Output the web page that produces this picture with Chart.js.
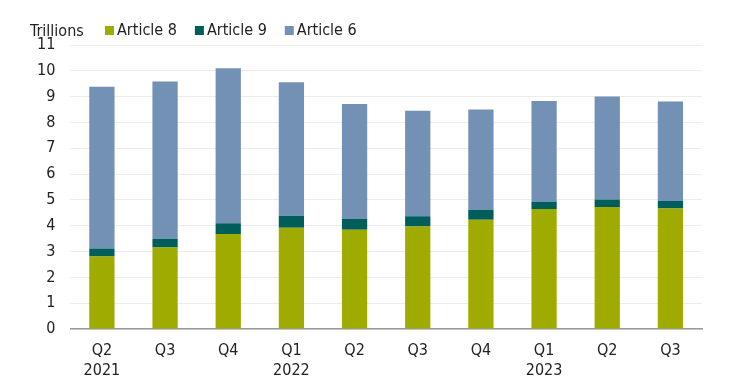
<!DOCTYPE html>
<html>
<head>
<meta charset="utf-8">
<script src="https://cdn.jsdelivr.net/npm/chart.js@4"></script>
<style>
    body { margin: 0; background: #fff; }
    #wrap { width: 740px; height: 380px; }
</style>
</head>
<body>
<div id="wrap"><canvas id="bar-chart"></canvas></div>
<script>
const quarters = [["Q2", "2021"], ["Q3"], ["Q4"], ["Q1", "2022"], ["Q2"], ["Q3"], ["Q4"], ["Q1", "2023"], ["Q2"], ["Q3"]];
const article8 = [2.81, 3.16, 3.68, 3.92, 3.84, 3.97, 4.23, 4.65, 4.73, 4.67];
const article9 = [0.31, 0.34, 0.42, 0.47, 0.43, 0.40, 0.39, 0.28, 0.29, 0.29];
const article6 = [6.26, 6.09, 6.00, 5.17, 4.44, 4.08, 3.88, 3.90, 3.99, 3.85];
const yTicks = [0, 1, 2, 3, 4, 5, 6, 7, 8, 9, 10, 11];

const fontFamily = "'DejaVu Sans Condensed', 'Liberation Sans Narrow', 'Roboto', sans-serif";

// leyenda propia: "Trillions" + cuadritos
const legendPlugin = {
    id: "topLegend",
    afterDraw(chart) {
        const ctx = chart.ctx;
        ctx.save();
        ctx.font = "16px " + fontFamily;
        ctx.fillStyle = "#222";
        ctx.textBaseline = "middle";
        ctx.fillText("Trillions", 30, 32);
        let x = 105;
        chart.data.datasets.forEach((ds) => {
            ctx.fillStyle = ds.backgroundColor;
            ctx.fillRect(x, 26, 9, 9);
            ctx.fillStyle = "#222";
            ctx.fillText(ds.label, x + 12, 31);
            x += 12 + ctx.measureText(ds.label).width + 18;
        });
        ctx.restore();
    },
};

new Chart(document.getElementById("bar-chart"), {
    type: "bar",
    data: {
        labels: quarters,
        datasets: [
            { label: "Article 8", data: article8, backgroundColor: "#a0ab00" },
            { label: "Article 9", data: article9, backgroundColor: "#005e5a" },
            { label: "Article 6", data: article6, backgroundColor: "#7390b5" },
        ],
    },
    options: {
        responsive: true,
        maintainAspectRatio: false,
        animation: false,
        layout: { padding: { left: 22, right: 38, top: 45, bottom: -13 } },
        datasets: { bar: { barPercentage: 0.4, categoryPercentage: 1 } },
        plugins: {
            legend: { display: false },
            tooltip: { enabled: false },
        },
        scales: {
            x: {
                stacked: true,
                grid: { display: false, drawTicks: false },
                border: { color: "#9a9a9a", width: 1.5 },
                ticks: { color: "#222", font: { family: fontFamily, size: 16, lineHeight: 1.25 }, padding: 12, maxRotation: 0 },
            },
            y: {
                stacked: true,
                min: 0,
                max: 11,
                afterBuildTicks: (axis) => {
                    axis.ticks = yTicks.map((v) => ({ value: v }));
                },
                grid: { color: "#ececec", drawTicks: false },
                border: { display: false },
                ticks: { color: "#222", font: { family: fontFamily, size: 16 }, padding: 15 },
            },
        },
    },
    plugins: [legendPlugin],
});
</script>
</body>
</html>
